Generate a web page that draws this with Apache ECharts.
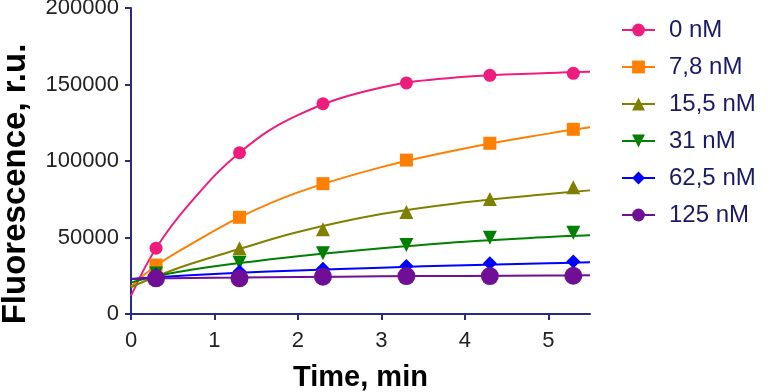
<!DOCTYPE html>
<html>
<head>
    <meta charset="utf-8">
    <title>Fluorescence vs time</title>
    <script src="https://cdn.jsdelivr.net/npm/echarts@6/dist/echarts.min.js"></script>
</head>
<body style="margin:0">
<div id="main" style="width:772px;height:392px;"></div>
<script type="text/javascript">
    // legend labels (concentrations)
    var names = ['0 nM', '7,8 nM', '15,5 nM', '31 nM', '62,5 nM', '125 nM'];

    // measured points
    var timePoints = [0.3, 1.3, 2.3, 3.3, 4.3, 5.3];
    var pts0 = [43000, 105400, 137400, 151000, 156000, 157300];
    var pts78 = [32000, 63200, 85200, 100600, 111600, 120700];
    var pts155 = [26000, 43000, 55400, 66700, 75200, 82800];
    var pts31 = [26500, 33500, 39700, 45100, 49900, 53100];
    var pts625 = [25500, 27700, 29600, 31400, 33100, 34300];
    var pts125 = [23300, 23300, 24400, 24800, 24800, 25000];

    // fitted curves
    var fitTime = [0, 0.3, 0.7, 1.3, 2, 3, 4, 5, 5.5];
    var fit0 = [11800, 43000, 72000, 105400, 130000, 148000, 155000, 157500, 158300];
    var fit78 = [18000, 31500, 45000, 63200, 79500, 96000, 108200, 117900, 122000];
    var fit155 = [17500, 24500, 32500, 42500, 53600, 65300, 73000, 78400, 80800];
    var fit31 = [20500, 24800, 28700, 33300, 37800, 43000, 47300, 50300, 51400];
    var fit625 = [22700, 24000, 25300, 27000, 28500, 30300, 31900, 33200, 33800];
    var fit125 = [23100, 23300, 23500, 23800, 24200, 24600, 24900, 25200, 25300];

    var xTicks = [0, 1, 2, 3, 4, 5];
    var yTicks = [0, 50000, 100000, 150000, 200000];

    var colors = ['#ee1c7c', '#ff8000', '#808000', '#008000', '#0000ff', '#6f0f96'];
    var symbols = ['circle', 'rect', 'triangle', 'path://M0,0 L10,0 L5,10 Z', 'diamond', 'circle'];
    var sizes = [13, 13, 14, 14, 14, 18];
    var pointSets = [pts0, pts78, pts155, pts31, pts625, pts125];
    var fitSets = [fit0, fit78, fit155, fit31, fit625, fit125];

    function pairs(xs, ys) {
        return xs.map(function (x, i) { return [x, ys[i]]; });
    }

    var series = [];
    for (var i = 0; i < names.length; i++) {
        // curve first so the legend takes its icon (line + symbol)
        series.push({
            name: names[i],
            type: 'line',
            smooth: 0.4,
            symbol: symbols[i],
            showSymbol: false,
            color: colors[i],
            lineStyle: {width: 2, color: colors[i]},
            z: 2,
            data: pairs(fitTime, fitSets[i])
        });
        series.push({
            name: names[i],
            type: 'scatter',
            symbol: symbols[i],
            symbolSize: sizes[i],
            itemStyle: {color: colors[i], opacity: 1},
            z: 3,
            data: pairs(timePoints, pointSets[i])
        });
    }

    var axisColor = '#2b2b80';
    var myChart = echarts.init(document.getElementById('main'));
    var option = {
        animation: false,
        grid: {left: 131, top: 8, right: 182, bottom: 78, outerBoundsMode: 'none'},
        legend: {
            data: names,
            orient: 'vertical',
            left: 616,
            top: 13,
            itemWidth: 33,
            itemHeight: 16,
            itemGap: 13,
            textStyle: {
                fontFamily: 'Liberation Sans',
                fontSize: 24,
                lineHeight: 22,
                color: '#1a1a66',
                padding: [0, 0, 0, 9]
            }
        },
        xAxis: {
            type: 'value',
            min: xTicks[0],
            max: 5.5,
            interval: xTicks[1] - xTicks[0],
            name: 'Time, min',
            nameLocation: 'middle',
            nameGap: 49,
            nameTextStyle: {fontFamily: 'Liberation Sans', fontSize: 29, fontWeight: 'bold', color: '#000'},
            splitLine: {show: false},
            axisLine: {lineStyle: {color: axisColor, width: 2}},
            axisTick: {length: 6, lineStyle: {color: axisColor, width: 2}},
            axisLabel: {
                fontFamily: 'Liberation Sans', fontSize: 22, color: '#222', margin: 16,
                showMaxLabel: false,
                formatter: function (v) { return xTicks.indexOf(v) >= 0 ? String(v) : ''; }
            }
        },
        yAxis: {
            type: 'value',
            min: yTicks[0],
            max: yTicks[yTicks.length - 1],
            interval: yTicks[1] - yTicks[0],
            name: 'Fluorescence, r.u.',
            nameLocation: 'middle',
            nameGap: 99,
            nameTextStyle: {
                fontFamily: 'Liberation Sans', fontSize: 33, fontWeight: 'bold', color: '#000',
                padding: [0, 46, 0, 0]
            },
            splitLine: {show: false},
            axisLine: {show: true, lineStyle: {color: axisColor, width: 2}},
            axisTick: {show: true, length: 6, lineStyle: {color: axisColor, width: 2}},
            axisLabel: {
                fontFamily: 'Liberation Sans', fontSize: 22, color: '#222', margin: 12,
                formatter: function (v) { return String(v); }
            }
        },
        series: series
    };
    myChart.setOption(option);
</script>
</body>
</html>
